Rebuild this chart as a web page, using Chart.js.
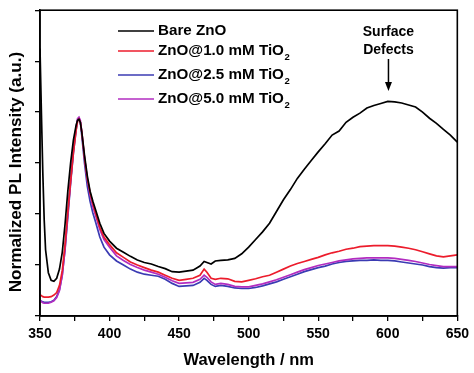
<!DOCTYPE html>
<html>
<head>
<meta charset="utf-8">
<script src="https://cdn.jsdelivr.net/npm/chart.js@4.4.1/dist/chart.umd.min.js"></script>
<style>
    html, body { margin: 0; padding: 0; background: #fff; }
    #wrap { width: 474px; height: 373px; }
</style>
</head>
<body>
<div id="wrap"><canvas id="plChart"></canvas></div>
<script>
// wavelength (nm)
const wavelengths = [350, 351, 352, 353, 354, 356, 358, 360, 362, 364, 366, 368, 370, 372, 374, 376, 377, 378, 379, 380,
    382, 384, 386, 388, 390, 393, 396, 400, 405, 410, 415, 420, 425, 430, 435, 440, 445, 450, 455, 460,
    465, 468, 470, 473, 476, 480, 485, 490, 495, 500, 505, 510, 515, 520, 525, 530, 535, 540, 545, 550,
    555, 560, 565, 570, 575, 580, 585, 590, 595, 600, 605, 610, 615, 620, 625, 630, 635, 640, 645, 650]

const bareZnO = [5.25, 4.0, 2.83, 1.9, 1.3, 0.85, 0.7, 0.68, 0.74, 0.92, 1.25, 1.8, 2.45, 3.0, 3.45, 3.75, 3.84, 3.86, 3.8, 3.62,
    3.15, 2.75, 2.45, 2.25, 2.08, 1.82, 1.62, 1.47, 1.33, 1.25, 1.17, 1.1, 1.05, 1.02, 0.97, 0.93, 0.87, 0.86, 0.88, 0.9,
    0.98, 1.07, 1.05, 1.02, 1.08, 1.09, 1.1, 1.13, 1.22, 1.35, 1.5, 1.65, 1.82, 2.05, 2.28, 2.48, 2.7, 2.88, 3.05, 3.22,
    3.38, 3.55, 3.63, 3.8, 3.9, 3.98, 4.08, 4.13, 4.17, 4.21, 4.2, 4.18, 4.14, 4.1, 4.0, 3.88, 3.78, 3.66, 3.55, 3.41]

const tio10 = [0.42, 0.4, 0.38, 0.37, 0.37, 0.37, 0.38, 0.41, 0.46, 0.6, 0.89, 1.4, 2.05, 2.64, 3.2, 3.65, 3.82, 3.86, 3.8, 3.62,
    3.1, 2.7, 2.42, 2.2, 2.02, 1.74, 1.55, 1.4, 1.24, 1.15, 1.06, 1.0, 0.95, 0.9, 0.86, 0.8, 0.74, 0.7, 0.72, 0.74,
    0.8, 0.92, 0.86, 0.74, 0.72, 0.74, 0.73, 0.68, 0.67, 0.7, 0.73, 0.77, 0.8, 0.86, 0.92, 0.98, 1.03, 1.07, 1.11, 1.15,
    1.2, 1.24, 1.27, 1.31, 1.33, 1.36, 1.37, 1.38, 1.38, 1.38, 1.37, 1.35, 1.33, 1.3, 1.26, 1.22, 1.18, 1.16, 1.18, 1.2]

const tio25 = [0.31, 0.29, 0.28, 0.27, 0.27, 0.27, 0.28, 0.31, 0.38, 0.52, 0.8, 1.3, 1.95, 2.6, 3.2, 3.66, 3.84, 3.88, 3.8, 3.55,
    3.0, 2.55, 2.25, 2.02, 1.84, 1.55, 1.35, 1.2, 1.08, 1.0, 0.92, 0.86, 0.82, 0.8, 0.78, 0.72, 0.64, 0.58, 0.59, 0.6,
    0.66, 0.74, 0.7, 0.62, 0.58, 0.6, 0.58, 0.55, 0.54, 0.54, 0.56, 0.59, 0.63, 0.67, 0.72, 0.77, 0.82, 0.87, 0.91, 0.95,
    0.98, 1.02, 1.05, 1.07, 1.08, 1.09, 1.09, 1.1, 1.09, 1.09, 1.08, 1.06, 1.04, 1.02, 1.0, 0.97, 0.95, 0.94, 0.95, 0.95]

const tio50 = [0.31, 0.28, 0.26, 0.25, 0.25, 0.25, 0.27, 0.3, 0.36, 0.5, 0.8, 1.32, 2.0, 2.65, 3.25, 3.7, 3.87, 3.9, 3.84, 3.62,
    3.1, 2.68, 2.38, 2.15, 1.97, 1.7, 1.5, 1.35, 1.18, 1.09, 1.01, 0.95, 0.9, 0.86, 0.82, 0.76, 0.69, 0.64, 0.65, 0.66,
    0.72, 0.8, 0.76, 0.67, 0.62, 0.64, 0.62, 0.58, 0.57, 0.57, 0.6, 0.63, 0.67, 0.71, 0.76, 0.81, 0.86, 0.91, 0.95, 0.99,
    1.02, 1.05, 1.08, 1.1, 1.12, 1.13, 1.14, 1.14, 1.14, 1.14, 1.13, 1.11, 1.09, 1.07, 1.04, 1.01, 0.99, 0.97, 0.97, 0.97]

const seriesNames = ['Bare ZnO', 'ZnO@1.0 mM TiO', 'ZnO@2.5 mM TiO', 'ZnO@5.0 mM TiO']
const seriesColors = ['#000000', '#ec1c2c', '#3b3bb3', '#b22cc0']
const xTickLabels = [350, 400, 450, 500, 550, 600, 650]

const FONT = "'Liberation Sans', Arial, sans-serif"

window.addEventListener('load', () => {
    const toPoints = (values) => wavelengths.map((w, i) => ({ x: w, y: values[i] }))
    const allSeries = [bareZnO, tio10, tio25, tio50]
    // draw order: blue lowest, black on top
    const drawOrder = [0, 1, 3, 2]

    const datasets = allSeries.map((values, i) => ({
        label: seriesNames[i],
        data: toPoints(values),
        borderColor: seriesColors[i],
        borderWidth: 1.7,
        pointRadius: 0,
        tension: 0,
        order: drawOrder[i]
    }))

    // frame, legend, y title and annotation
    const decorations = {
        id: 'decorations',
        afterDatasetsDraw(chart) {
            const { ctx, chartArea } = chart
            ctx.save()
            ctx.strokeStyle = '#000'
            ctx.lineWidth = 1.6
            ctx.strokeRect(chartArea.left, chartArea.top, chartArea.right - chartArea.left, chartArea.bottom - chartArea.top)

            // y title, sits a bit below the middle in the original
            ctx.save()
            ctx.translate(16, 172)
            ctx.rotate(-Math.PI / 2)
            ctx.fillStyle = '#000'
            ctx.font = 'bold 17.2px ' + FONT
            ctx.textAlign = 'center'
            ctx.textBaseline = 'middle'
            ctx.fillText('Normalized PL Intensity (a.u.)', 0, 0)
            ctx.restore()

            // legend
            const rows = [31, 51, 75, 99]
            ctx.textBaseline = 'middle'
            rows.forEach((y, i) => {
                ctx.strokeStyle = seriesColors[i]
                ctx.lineWidth = 1.7
                ctx.beginPath()
                ctx.moveTo(118, y)
                ctx.lineTo(154, y)
                ctx.stroke()
                ctx.fillStyle = '#000'
                ctx.font = 'bold 15.2px ' + FONT
                ctx.textAlign = 'left'
                ctx.fillText(seriesNames[i], 158, y)
                if (i > 0) {
                    const w = ctx.measureText(seriesNames[i]).width
                    ctx.font = 'bold 9.5px ' + FONT
                    ctx.fillText('2', 158 + w + 0.5, y + 6)
                }
            })

            // Surface Defects
            const xs = chart.scales.x.getPixelForValue(600.5)
            ctx.fillStyle = '#000'
            ctx.font = 'bold 14px ' + FONT
            ctx.textAlign = 'center'
            ctx.fillText('Surface', xs, 32)
            ctx.fillText('Defects', xs, 50)
            ctx.strokeStyle = '#000'
            ctx.lineWidth = 1.5
            ctx.beginPath()
            ctx.moveTo(xs, 59)
            ctx.lineTo(xs, 84)
            ctx.stroke()
            ctx.beginPath()
            ctx.moveTo(xs - 3.5, 82)
            ctx.lineTo(xs + 3.5, 82)
            ctx.lineTo(xs, 91)
            ctx.closePath()
            ctx.fill()
            ctx.restore()
        }
    }

    const plChartEl = document.getElementById('plChart')
    const plChart = new Chart(plChartEl, {
        type: 'line',
        data: { datasets: datasets },
        options: {
            responsive: true,
            maintainAspectRatio: false,
            animation: false,
            layout: {
                padding: { top: 7, right: 14, left: 0, bottom: 0 }
            },
            plugins: {
                legend: { display: false },
                tooltip: { enabled: false }
            },
            scales: {
                x: {
                    type: 'linear',
                    min: 350,
                    max: 650,
                    afterFit: (scale) => { scale.height = 57 },
                    border: { display: true, color: '#000', width: 1.6 },
                    grid: {
                        drawOnChartArea: false,
                        drawTicks: true,
                        tickLength: 5,
                        color: '#000',
                        lineWidth: 1.3
                    },
                    ticks: {
                        stepSize: 25,
                        autoSkip: false,
                        maxRotation: 0,
                        padding: 5,
                        color: '#000',
                        font: { family: FONT, size: 14, weight: 'bold' },
                        callback: (value) => xTickLabels.includes(value) ? String(value) : ''
                    },
                    title: {
                        display: true,
                        text: 'Wavelength / nm',
                        color: '#000',
                        font: { family: FONT, size: 16.5, weight: 'bold' },
                        padding: { top: 0, bottom: 3 }
                    }
                },
                y: {
                    min: 0,
                    max: 6,
                    afterFit: (scale) => { scale.width = 40 },
                    border: { display: true, color: '#000', width: 1.6 },
                    grid: {
                        drawOnChartArea: false,
                        drawTicks: true,
                        tickLength: 5,
                        color: '#000',
                        lineWidth: 1.3
                    },
                    ticks: {
                        stepSize: 1,
                        callback: () => ''
                    },
                    title: { display: false }
                }
            }
        },
        plugins: [decorations]
    })
})
</script>
</body>
</html>
